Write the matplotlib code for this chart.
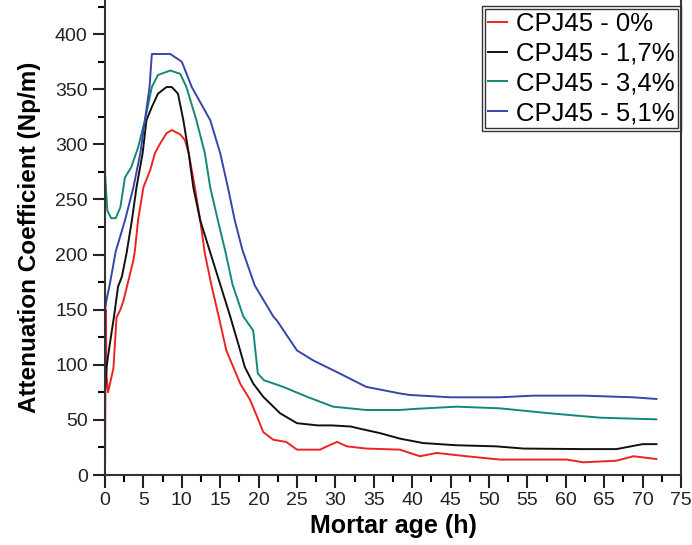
import matplotlib.pyplot as plt
from matplotlib.patches import Rectangle
from matplotlib.ticker import MultipleLocator

plt.rcParams['font.family'] = ['Liberation Sans', 'DejaVu Sans']

# Mortar age (h) and attenuation coefficient (Np/m)
t_0 = [0, 0.1, 0.2, 0.4, 1.1, 1.5, 2.0, 2.4, 3.0, 3.7, 3.9, 4.3, 5.0, 5.9, 6.5, 7.2, 8.0, 8.7,
       9.8, 10.4, 10.9, 11.7, 12.4, 13.0, 13.9, 14.8, 15.8, 17.6, 18.9, 19.8, 20.6, 21.9, 23.6,
       25, 28, 28.9, 30.2, 31.5, 34, 38.4, 41, 43.2, 47.1, 51.4, 56, 60.1, 62.3, 66.6, 68.8, 71.8]
a_0 = [0, 150, 90, 75, 97, 143, 150, 158, 175, 195, 204, 231, 261, 277, 292, 301, 310, 313,
       309, 304, 292, 261, 231, 201, 171, 144, 113, 83, 68, 53, 39, 32, 30,
       23, 23, 26, 30, 26, 24, 23, 17, 20, 17, 14, 14, 14, 11.5, 13, 17, 14.5]

t_17 = [0, 0.2, 0.65, 1.2, 1.7, 2.2, 2.8, 3.5, 4.1, 4.9, 5.4, 6.1, 6.9, 8.0, 8.7, 9.5, 10.2,
        10.9, 11.5, 12.4, 13.7, 15.0, 16.3, 17.6, 18.2, 19.3, 20.6, 22.8, 25, 27.7, 29.5, 32,
        33.2, 35.8, 38.4, 41.4, 45.7, 50.9, 54.5, 62.3, 66.6, 70, 71.8]
a_17 = [75, 98, 120, 145, 171, 180, 201, 231, 261, 292, 322, 334, 346, 352, 352, 346, 322,
        292, 261, 231, 202, 173, 144, 113, 98, 83, 71, 56, 47, 45, 45, 44,
        42, 38, 33, 29, 27, 26, 24, 23.5, 23.5, 28, 28]

t_34 = [0, 0.3, 0.8, 1.4, 2.0, 2.6, 3.4, 4.3, 5.2, 6.1, 6.9, 8.5, 9.8, 10.6, 11.9, 13.0, 13.7,
        14.7, 15.7, 16.6, 18.0, 19.3, 19.9, 20.7, 23.2, 26.3, 29.7, 34, 38.4, 40.4, 45.8, 51.4,
        57.9, 64.5, 71.8]
a_34 = [274, 240, 233, 233, 243, 270, 279, 297, 322, 352, 363, 367, 364, 352, 322, 292, 261,
        231, 202, 173, 144, 131, 92, 86, 80, 71, 62, 59, 59, 60, 62, 60.5,
        56, 52, 50.5]

t_51 = [0, 0.2, 0.65, 1.4, 2.6, 3.7, 4.6, 5.2, 5.8, 6.1, 8.5, 10.0, 11.3, 13.7, 15.0, 16.0,
        16.9, 17.9, 19.5, 21.9, 22.4, 25, 27.1, 30.6, 34, 38.4, 39.7, 45, 51.4, 55.8, 62.3,
        68.8, 71.8]
a_51 = [150, 159, 174, 203, 231, 261, 292, 322, 352, 382, 382, 375, 352, 322, 292, 261,
        231, 204, 172, 144, 140, 113, 104, 92, 80, 74, 72.6, 70.5, 70.5, 72, 72,
        70.5, 69]

labels = ['CPJ45 - 0%', 'CPJ45 - 1,7%', 'CPJ45 - 3,4%', 'CPJ45 - 5,1%']
colors = ['#ee2222', '#111111', '#128878', '#3545aa']

fig = plt.figure(figsize=(6.92, 5.45), dpi=100)
ax = fig.add_axes([105 / 692, 70 / 545, 576 / 692, 475 / 545])

for t, a, lab, c in zip([t_0, t_17, t_34, t_51], [a_0, a_17, a_34, a_51], labels, colors):
    ax.plot(t, a, color=c, lw=1.4, label=lab)

ax.set_xlim(0, 75)
ax.set_ylim(0, 431)
ax.xaxis.set_major_locator(MultipleLocator(5))
ax.xaxis.set_minor_locator(MultipleLocator(2.5))
ax.yaxis.set_major_locator(MultipleLocator(50))
ax.yaxis.set_minor_locator(MultipleLocator(25))
ax.set_yticks(range(0, 401, 50))
ax.tick_params(which='major', direction='out', length=9, width=1.5, labelsize=14, colors='#222222')
ax.tick_params(which='minor', direction='out', length=5, width=1.5)
ax.tick_params(right=False, top=False)
ax.spines['top'].set_visible(False)
for s in ['left', 'bottom', 'right']:
    ax.spines[s].set_linewidth(1.5)
    ax.spines[s].set_color('#333333')

ax.set_xlabel('Mortar age (h)', fontsize=18, fontweight='bold', labelpad=3)
ax.set_ylabel('Attenuation Coefficient (Np/m)', fontsize=17.5, fontweight='bold', labelpad=10)

leg = ax.legend(loc='upper right', bbox_to_anchor=(678 / 692, 1 - 9 / 545),
                bbox_transform=fig.transFigure, borderaxespad=0, fontsize=18.5,
                handlelength=0.75, handletextpad=0.35, labelspacing=0.22, borderpad=0.12,
                fancybox=False, framealpha=1, edgecolor='#333333')
leg.get_frame().set_linewidth(1.0)

fig.canvas.draw()
bb = leg.get_window_extent().transformed(fig.transFigure.inverted())
pad_x, pad_y = 3 / 692, 3 / 545
fig.patches.append(Rectangle((bb.x0 - pad_x, bb.y0 - pad_y), bb.width + 2 * pad_x,
                             bb.height + 2 * pad_y, transform=fig.transFigure,
                             fill=False, edgecolor='#333333', lw=1.0))

fig.savefig('out.png', dpi=100)
